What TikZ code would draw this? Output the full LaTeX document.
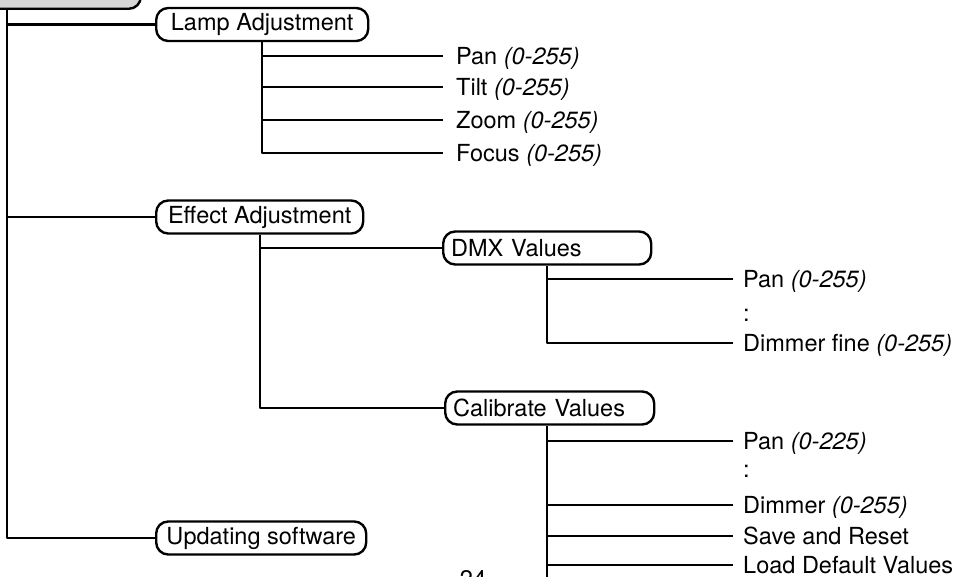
\documentclass[tikz,border=0pt]{standalone}
\usepackage{fontspec}
\setmainfont{TeX Gyre Heros}
\begin{document}
\begin{tikzpicture}[x=1pt,y=-1pt,line width=2.4pt,line join=round,
  menubox/.style={draw,rounded corners=12pt,minimum height=33pt,inner xsep=8pt,inner ysep=0pt,
    anchor=west,font=\fontsize{23.5}{27}\selectfont},
  leaf/.style={anchor=west,inner sep=0pt,text height=16.9pt,text depth=0pt,font=\fontsize{23.5}{27}\selectfont},
  conn/.style={draw,line width=2.4pt}]
\useasboundingbox (0,0) rectangle (962,577);
\clip (0,0) rectangle (962,577);
% cut-off root box
\node[draw,fill=black!16,rounded corners=12pt,minimum width=200pt,minimum height=40pt,anchor=south east] (root) at (142,10) {};
% first level
\node[menubox,minimum width=212pt] (lamp) at (155,24.5) {Lamp Adjustment};
\node[menubox,minimum width=207pt] (effect) at (155,217) {Effect Adjustment};
\node[menubox,minimum width=210pt] (upd) at (155,538) {Updating software};
% second level
\node[menubox,text width=192pt,align=left] (dmx) at (442,248) {DMX Values};
\node[menubox,text width=193pt,align=left] (cal) at (444,408) {Calibrate Values};
% lamp leaves
\node[leaf] (lpan) at (455,56) {Pan \textit{(0-255)}};
\node[leaf] (ltilt) at (455,87) {Tilt \textit{(0-255)}};
\node[leaf] (lzoom) at (455,120) {Zoom \textit{(0-255)}};
\node[leaf] (lfocus) at (455,153) {Focus \textit{(0-255)}};
% dmx leaves
\node[leaf] (dpan) at (742,279) {Pan \textit{(0-255)}};
\node[leaf] (dcolon) at (742,313) {:};
\node[leaf] (ddim) at (742,343) {Dimmer fine \textit{(0-255)}};
% calibrate leaves
\node[leaf] (cpan) at (742,441) {Pan \textit{(0-225)}};
\node[leaf] (ccolon) at (742,469) {:};
\node[leaf] (cdim) at (742,505) {Dimmer \textit{(0-255)}};
\node[leaf] (csave) at (742,536) {Save and Reset};
\node[leaf] (cload) at (742,565) {Load Default Values};
% page number (cut off)
\node[anchor=north,inner sep=0pt,text height=16.8pt,text depth=0pt,font=\fontsize{24}{28}\selectfont] (page) at (473,569) {24};
% connectors
\coordinate (trunk) at (7,10);
\draw[conn] (trunk) |- (upd.west);
\draw[conn] (trunk |- lamp.west) -- (lamp.west);
\draw[conn] (trunk |- effect.west) -- (effect.west);
\draw[conn] (lamp.south) |- ([xshift=-12pt]lfocus.west);
\foreach \n in {lpan,ltilt,lzoom}{\draw[conn] (lamp.south |- \n.west) -- ([xshift=-12pt]\n.west);}
\draw[conn] (effect.south) |- (cal.west);
\draw[conn] (effect.south |- dmx.west) -- (dmx.west);
\draw[conn] (dmx.south) |- ([xshift=-9pt]ddim.west);
\draw[conn] (dmx.south |- dpan.west) -- ([xshift=-9pt]dpan.west);
\coordinate (calend) at ([xshift=-2.5pt]cal.south |- 0,600);
\draw[conn] ([xshift=-2.5pt]cal.south) -- (calend);
\foreach \n in {cpan,cdim,csave,cload}{\draw[conn] (calend |- \n.west) -- ([xshift=-9pt]\n.west);}
\end{tikzpicture}
\end{document}
